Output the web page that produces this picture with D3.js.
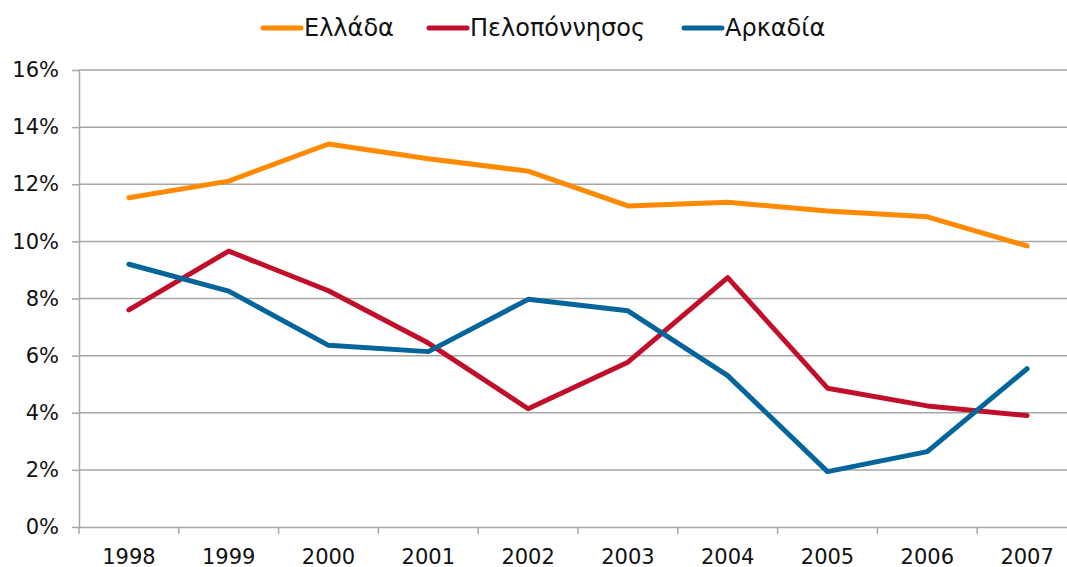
<!doctype html>
<html>
  <head>
    <meta charset="utf-8">
    <title>Ελλάδα - Πελοπόννησος - Αρκαδία</title>
    <script src="https://cdn.jsdelivr.net/npm/d3@7"></script>
    <style>
    body { margin: 0; background: #fff; }
    text { font-family: "DejaVu Sans", Verdana, sans-serif; fill: #111; }
    .grid line { stroke: #a6a6a6; stroke-width: 1.5px; }
    .axis path, .axis line { stroke: #a6a6a6; stroke-width: 1.5px; }
    </style>
  </head>
  <body>
    <script>
      var w_svg = 1067;
      var h_svg = 567;

      // data (percent)
      var years = ["1998","1999","2000","2001","2002","2003","2004","2005","2006","2007"];
      var ellada = [11.53, 12.11, 13.41, 12.89, 12.46, 11.24, 11.37, 11.06, 10.86, 9.84];
      var peloponnisos = [7.6, 9.66, 8.27, 6.44, 4.14, 5.77, 8.73, 4.86, 4.24, 3.9];
      var arkadia = [9.2, 8.26, 6.36, 6.14, 7.97, 7.57, 5.3, 1.94, 2.64, 5.54];
      var yTicks = [0, 2, 4, 6, 8, 10, 12, 14, 16];

      var seriesNames = ["Ελλάδα", "Πελοπόννησος", "Αρκαδία"];
      var seriesColors = ["#ff8a00", "#c10f2b", "#03659a"];
      var seriesValues = [ellada, peloponnisos, arkadia];

      // plot box (note: "top" is reserved on window, so use other names)
      var plotL = 79, plotR = 1077, plotT = 70, plotB = 527;

      var svg = d3.select("body")
                  .append("svg")
                  .attr("width", w_svg)
                  .attr("height", h_svg);

      var x = d3.scaleBand().domain(years).range([plotL, plotR]);
      var y = d3.scaleLinear().domain([0, 16]).range([plotB, plotT]);

      // horizontal gridlines
      svg.append("g")
         .attr("class", "grid")
         .selectAll("line")
         .data(yTicks.slice(1))
         .enter().append("line")
         .attr("x1", plotL)
         .attr("x2", plotR)
         .attr("y1", function(d) { return y(d); })
         .attr("y2", function(d) { return y(d); });

      // y axis
      var yAxis = svg.append("g")
         .attr("class", "axis")
         .attr("transform", "translate(" + plotL + ",0)")
         .call(d3.axisLeft(y).tickValues(yTicks)
                 .tickFormat(function(d) { return d + "%"; })
                 .tickSize(7).tickPadding(13).tickSizeOuter(0));
      yAxis.selectAll("text").style("font-size", "21px").style("fill", "#111");

      // x axis
      var xAxis = svg.append("g")
         .attr("class", "axis")
         .attr("transform", "translate(0," + plotB + ")")
         .call(d3.axisBottom(x).tickSize(0).tickPadding(22).tickSizeOuter(0));
      xAxis.selectAll("text").style("font-size", "21px").style("fill", "#111");
      // tick marks sit on the band boundaries
      xAxis.selectAll(".bnd")
           .data(years)
           .enter().append("line")
           .attr("class", "bnd")
           .attr("x1", function(d) { return x(d); })
           .attr("x2", function(d) { return x(d); })
           .attr("y1", 0)
           .attr("y2", 7);

      // lines
      var line = d3.line()
                   .x(function(d, i) { return x(years[i]) + x.bandwidth() / 2; })
                   .y(function(d) { return y(d); });

      svg.selectAll(".series")
         .data(seriesValues)
         .enter().append("path")
         .attr("class", "series")
         .attr("d", line)
         .attr("fill", "none")
         .attr("stroke", function(d, i) { return seriesColors[i]; })
         .attr("stroke-width", 5)
         .attr("stroke-linejoin", "round")
         .attr("stroke-linecap", "round");

      // legend
      var legendX = [263, 429, 684];
      var legend = svg.selectAll(".legend")
                      .data(seriesNames)
                      .enter().append("g")
                      .attr("class", "legend")
                      .attr("transform", function(d, i) { return "translate(" + legendX[i] + ",28)"; });
      legend.append("line")
            .attr("x1", 0).attr("x2", 38)
            .attr("y1", 0).attr("y2", 0)
            .attr("stroke", function(d, i) { return seriesColors[i]; })
            .attr("stroke-width", 5)
            .attr("stroke-linecap", "round");
      legend.append("text")
            .attr("x", 41)
            .attr("y", 8)
            .style("font-size", "24px")
            .text(function(d) { return d; });
    </script>
  </body>
</html>
